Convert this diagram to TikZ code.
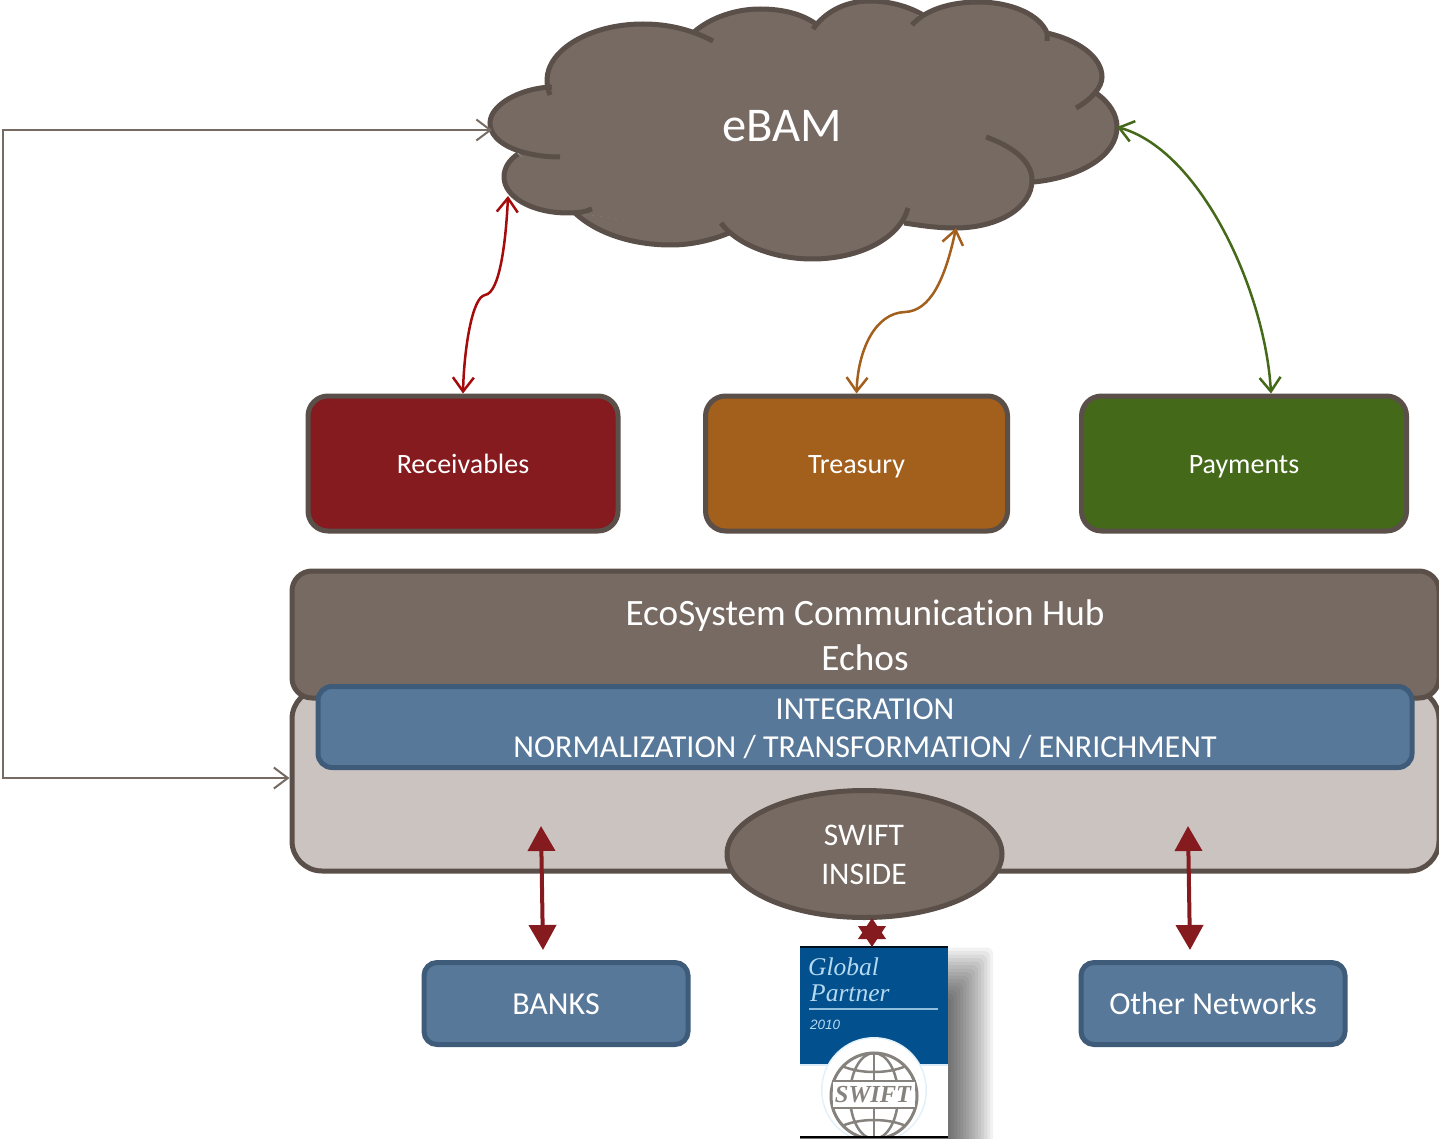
\documentclass[tikz,border=0pt]{standalone}
\usepackage{fontspec}
\setmainfont{Carlito}[Ligatures=NoCommon]
\newfontfamily\logoserif{Liberation Serif}
\newfontfamily\logosans{Liberation Sans}
\usetikzlibrary{arrows.meta,shapes.geometric}
\definecolor{cloudfill}{HTML}{766A62}
\definecolor{cloudedge}{HTML}{5A4F49}
\definecolor{paleback}{HTML}{CBC3C0}
\definecolor{steelblue}{HTML}{58789A}
\definecolor{steeledge}{HTML}{3F5B7A}
\definecolor{recvred}{HTML}{851A1F}
\definecolor{arrowred}{HTML}{A50B0B}
\definecolor{treasbrown}{HTML}{A35F1C}
\definecolor{paygreen}{HTML}{446919}
\definecolor{logoblue}{HTML}{03508F}
\definecolor{logolight}{HTML}{B5DAF0}
\definecolor{logogray}{HTML}{86827D}
\newcommand{\textsize}[1]{\fontsize{#1}{#1}\selectfont}
\newcommand{\cloudlobes}[1]{
	\path[#1] (713,41) .. controls (690,29) and (667,24) .. (643,24) .. controls (590,24) and (547,50) .. (547,80) .. controls (547,85) and (548,90) .. (550,95);
	\path[#1] (816,24) .. controls (802,14) and (783,9) .. (760,9) .. controls (735,9) and (710,18) .. (694,32);
	\path[#1] (923,15) .. controls (910,7) and (890,1) .. (870,1) .. controls (845,1) and (825,12) .. (813,29);
	\path[#1] (1047,41) -- (1047,33) .. controls (1040,15) and (1012,2) .. (978,2) .. controls (950,2) and (925,10) .. (912,25);
	\path[#1] (1076,108) .. controls (1092,99) and (1102,87) .. (1102,77) .. controls (1102,57) and (1078,40) .. (1047,33);
	\path[#1] (1034,182) .. controls (1082,177) and (1117,155) .. (1117,127) .. controls (1117,115) and (1110,103) .. (1096,93);
	\path[#1] (904,223) .. controls (918,225) and (935,228) .. (955,228) .. controls (998,228) and (1032,208) .. (1032,180) .. controls (1032,162) and (1014,147) .. (986,137);
	\path[#1] (721,223) .. controls (737,245) and (775,259) .. (812,259) .. controls (860,259) and (900,238) .. (908,208);
	\path[#1] (575,213) .. controls (595,232) and (630,245) .. (671,245) .. controls (692,245) and (712,240) .. (729,233);
	\path[#1] (518,154) .. controls (509,160) and (504,168) .. (504,177) .. controls (504,197) and (532,213) .. (568,213) .. controls (577,213) and (585,212) .. (592,209);
	\path[#1] (552,87) .. controls (520,88) and (490,105) .. (490,123) .. controls (490,145) and (525,157) .. (560,157);
}
\tikzset{
	plainbox/.style={draw=cloudedge,line width=5pt,rounded corners=20pt,align=center,text=white},
	deptbox/.style={plainbox,minimum height=135pt,font=\textsize{28},text height=25pt,text depth=6pt},
	netbox/.style={plainbox,draw=steeledge,fill=steelblue,rounded corners=13pt,minimum height=82pt,font=\textsize{32},text height=27pt,text depth=6pt},
	barbarrow/.style={{Straight Barb[length=14pt,width=21pt,line width=2.5pt]}-{Straight Barb[length=14pt,width=21pt,line width=2.5pt]},line width=2.5pt},
	framearrow/.style={{Straight Barb[length=14pt,width=21pt,line width=2pt]}-{Straight Barb[length=14pt,width=21pt,line width=2pt]},line width=2pt},
	fatarrow/.style={{Triangle[length=25pt,width=27pt]}-{Triangle[length=25pt,width=27pt]},line width=4pt,draw=recvred,fill=recvred},
}
\begin{document}
\begin{tikzpicture}[x=1pt,y=-1pt]
	\useasboundingbox (0,0) rectangle (1439,1139);
	% cloud
	\filldraw[fill=cloudfill,draw=cloudfill,line width=3pt,line join=round] (552,90) -- (697,30) -- (815,24) -- (918,17) -- (1047,33) -- (1096,93) -- (1034,182) -- (906,222) -- (727,232) -- (577,212) -- (520,153) -- cycle;
	\cloudlobes{fill=cloudfill}
	\cloudlobes{draw=cloudedge,line width=5pt}
	\node[text=white,font=\textsize{48.5}] (ebam) at (782,126) {eBAM};
	\coordinate (cloudw) at (492,130);
	\coordinate (cloudsw) at (508,196);
	\coordinate (clouds) at (956,228);
	\coordinate (cloude) at (1117,127);
	% departments
	\node[deptbox,fill=recvred,minimum width=310pt] (receivables) at (463,463.5) {Receivables};
	\node[deptbox,fill=treasbrown,minimum width=302pt] (treasury) at (856.5,463.5) {Treasury};
	\node[deptbox,fill=paygreen,minimum width=325pt] (payments) at (1244,463.5) {Payments};
	% hub
	\node[plainbox,fill=paleback,rounded corners=30pt,minimum width=1147pt,minimum height=182pt] (backbox) at (865.5,780) {};
	\node[plainbox,fill=cloudfill,minimum width=1147pt,minimum height=127pt,inner sep=0pt] (hub) at (865.5,634.5) {};
	\node[text=white,font=\textsize{37.2},align=center] (hubtext) at (865,635) {EcoSystem Communication Hub\\[8pt]Echos};
	\node[plainbox,draw=steeledge,fill=steelblue,rounded corners=14pt,minimum width=1094pt,minimum height=81pt] (integration) at (865,727) {};
	\node[text=white,font=\textsize{32},align=center] (integrationtext) at (865,729) {INTEGRATION\\[6pt]NORMALIZATION / TRANSFORMATION / ENRICHMENT};
	\node[ellipse,draw=cloudedge,line width=5pt,fill=cloudfill,minimum width=275pt,minimum height=127pt,inner sep=0pt] (swift) at (864.5,854) {};
	\node[text=white,font=\textsize{31.5},align=center] (swifttext) at (864,855) {SWIFT\\[7pt]INSIDE};
	% networks
	\node[netbox,minimum width=264pt] (banks) at (556,1003.5) {BANKS};
	\node[netbox,minimum width=264pt] (others) at (1213,1003.5) {Other Networks};
	% logo shadow
	\foreach \i in {1,...,15}
		\fill[black,opacity=0.05,rounded corners=6pt] (800,1000-3.5*\i) rectangle (948+3*\i,1150);
	% logo
	\node[draw=none,fill=logoblue,minimum width=148pt,minimum height=191pt,inner sep=0pt] (logo) at (874,1041.5) {};
	\begin{scope}
		\clip (800,946) rectangle (948,1137);
		\fill[white] (800,1065) rectangle (948,1137);
		\fill[logolight!50!white] (800,1064) rectangle (948,1066);
		\fill[logolight!40!white] (874,1090) circle (53);
		\fill[white] (874,1090) circle (51.5);
		\draw[logogray,line width=3pt] (874,1096) circle (43);
		\draw[logogray,line width=2.5pt] (874,1053) -- (874,1139);
		\draw[logogray,line width=2.5pt] (874,1096) ellipse (24 and 43);
		\draw[logogray,line width=2.5pt] (842,1066) .. controls (860,1074) and (888,1074) .. (906,1066) (842,1126) .. controls (860,1118) and (888,1118) .. (906,1126);
		\fill[white] (833,1081) rectangle (915,1108);
		\draw[logogray,line width=2pt] (832,1081) -- (916,1081) (832,1108) -- (916,1108);
		\draw[black!80!logoblue,line width=3pt] (800,946.5) -- (948,946.5);
		\draw[black,line width=2pt] (800,1137) -- (948,1137);
	\end{scope}
	\node[text=logolight,font=\logoserif\itshape\textsize{25.5},anchor=base west,inner sep=0pt] (logoglobal) at (808,975) {Global};
	\node[text=logolight,font=\logoserif\itshape\textsize{25.5},anchor=base west,inner sep=0pt] (logopartner) at (810,1001) {Partner};
	\draw[logolight!80!logoblue,line width=2.5pt] (809,1009) -- (938,1009);
	\node[text=logolight,font=\logosans\itshape\textsize{13.5},anchor=base west,inner sep=0pt] (logoyear) at (810,1029) {2010};
	\node[text=logogray,font=\logoserif\bfseries\itshape\textsize{24.5},inner sep=0pt] (logoswift) at (873,1095) {SWIFT};
	% connectors
	\draw[framearrow,draw=cloudfill] (cloudw) -- (3,130) -- (3,778) -- (backbox.west |- 3,778);
	\draw[barbarrow,draw=arrowred] (cloudsw) .. controls (506,240) and (500,293) .. (485,295) .. controls (472,297) and (464,350) .. (receivables.north);
	\draw[barbarrow,draw=treasbrown] (clouds) .. controls (945,280) and (930,311) .. (905,312) .. controls (875,313) and (858,350) .. (treasury.north);
	\draw[barbarrow,draw=paygreen] (cloude) .. controls (1200,150) and (1265,290) .. ([xshift=27pt]payments.north);
	\coordinate (backbanks) at (541,826);
	\coordinate (backothers) at (1188,826);
	\draw[fatarrow] (backbanks) -- ([xshift=-13pt]banks.north |- 0,950);
	\draw[fatarrow] (backothers) -- (1190,950);
	\draw[{Triangle[length=21pt,width=27pt]}-{Triangle[length=21pt,width=27pt]},line width=4pt,draw=recvred,fill=recvred] (872,918) -- (872,947);
\end{tikzpicture}
\end{document}
